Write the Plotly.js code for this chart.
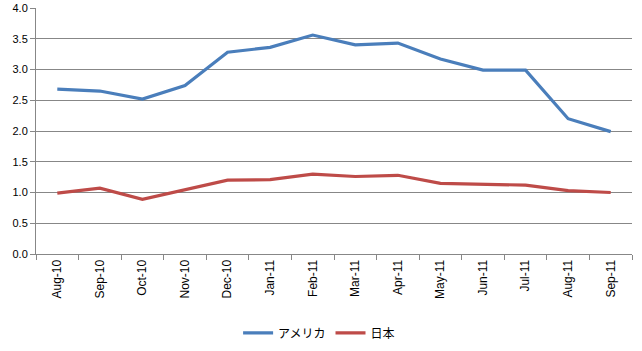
<!DOCTYPE html>
<html>
<head>
<meta charset="utf-8">
<script src="https://cdn.plot.ly/plotly-3.0.1.min.js"></script>
<style>html,body{margin:0;padding:0;background:#fff;}#chart{width:642px;height:351px;}</style>
</head>
<body>
<div id="chart"></div>
<script>
const categories = ["Aug-10","Sep-10","Oct-10","Nov-10","Dec-10","Jan-11","Feb-11","Mar-11","Apr-11","May-11","Jun-11","Jul-11","Aug-11","Sep-11"];
const usaValues = [2.68,2.65,2.52,2.74,3.28,3.36,3.56,3.40,3.43,3.17,2.99,2.99,2.20,1.99];
const japanValues = [0.99,1.07,0.89,1.05,1.20,1.21,1.30,1.26,1.28,1.15,1.13,1.12,1.03,1.00];
const seriesNames = ["アメリカ","日本"];

const traces = [
  {x: categories, y: usaValues, name: seriesNames[0], type: "scatter", mode: "lines",
   line: {color: "#4a7ebb", width: 3.2}},
  {x: categories, y: japanValues, name: seriesNames[1], type: "scatter", mode: "lines",
   line: {color: "#be4b48", width: 3.2}}
];

const layout = {
  width: 642, height: 351,
  margin: {l: 36, r: 10, t: 8, b: 97, autoexpand: false},
  paper_bgcolor: "#fff", plot_bgcolor: "#fff",
  font: {family: "Liberation Sans, Arial, sans-serif", size: 11, color: "#000"},
  showlegend: true,
  legend: {orientation: "h", x: 0.475, xanchor: "center", y: -0.262, yanchor: "top",
           font: {family: "Noto Sans CJK JP, sans-serif", size: 12, color: "#000"},
           itemwidth: 30, tracegroupgap: 0},
  xaxis: {type: "category", range: [-0.5, categories.length - 0.5], automargin: false,
          tickangle: -90, showgrid: false, showline: true,
          linecolor: "#878787", linewidth: 1, ticks: "outside", tickson: "boundaries",
          ticklen: 5, tickcolor: "#878787", zeroline: false,
          tickfont: {size: 12}},
  yaxis: {range: [0, 4], dtick: 0.5, tickformat: ".1f", automargin: false, showgrid: true,
          gridcolor: "#878787", gridwidth: 1, showline: true, linecolor: "#878787",
          ticks: "outside", ticklen: 5, tickcolor: "#878787", zeroline: false,
          tickfont: {size: 11}}
};

Plotly.newPlot("chart", traces, layout, {displayModeBar: false, staticPlot: true});
</script>
</body>
</html>
